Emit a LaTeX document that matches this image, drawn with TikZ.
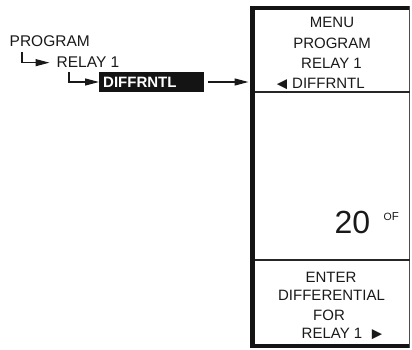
\documentclass[tikz,border=0pt]{standalone}
\usepackage{fontspec}
\setmainfont{Liberation Sans}
\usetikzlibrary{arrows.meta}
\begin{document}
\begin{tikzpicture}[x=1pt,y=-1pt,
  arr/.style={line width=1.3pt, draw=black!90, -{Triangle[length=14pt,width=7pt]}},
  lbl/.style={inner sep=0, anchor=base west, font=\fontsize{15.5}{15.5}\selectfont, text=black!90},
  lcdtxt/.style={inner sep=0, anchor=base, font=\fontsize{15}{15}\selectfont, text=black!90},
  tri/.style={inner sep=0, anchor=base, font=\fontsize{17}{17}\selectfont, text=black!90},
  divider/.style={line width=1.2pt, draw=black!85}
  ]
\useasboundingbox (0,0) rectangle (412,350);
% left menu path
\node[lbl] (prog) at (9.5,47) {PROGRAM};
\node[lbl] (relay) at (56.5,68) {RELAY 1};
\node[fill=black!92, inner xsep=4pt, inner ysep=0pt, minimum height=20pt, text width=97pt,
      anchor=west, text=white, font=\fontsize{15}{15}\selectfont\bfseries] (diff) at (99,82) {DIFFRNTL};
\draw[arr] ([shift={(12.5,5)}]prog.south west) |- ([xshift=-7pt]relay.west);
\draw[arr] ([shift={(12.5,4)}]relay.south west) |- (diff.west);
% LCD frame
\node[inner sep=0, minimum width=159.5pt, minimum height=342pt, anchor=north west] (lcd) at (250,6) {};
\fill[black!92] (lcd.north west) rectangle ([xshift=5pt]lcd.south west);
\fill[black!92] (lcd.north west) rectangle ([yshift=-4.5pt]lcd.north east);
\fill[black!92] ([yshift=4.5pt]lcd.south west) rectangle (lcd.south east);
\draw[line width=1pt, black!70] ([xshift=-0.5pt]lcd.north east) -- ([xshift=-0.5pt]lcd.south east);
\coordinate (d1l) at (255,92);
\coordinate (d1r) at (409.5,92);
\coordinate (d2l) at (255,260);
\coordinate (d2r) at (409.5,260);
\draw[divider] (d1l) -- (d1r);
\draw[divider] (d2l) -- (d2r);
\draw[arr, shorten <=4pt, shorten >=1.5pt] (diff.east) -- (diff.east -| lcd.west);
% top section
\node[lcdtxt] (t1) at (332,28) {MENU};
\node[lcdtxt] (t2) at (332,49) {PROGRAM};
\node[lcdtxt] (t3) at (331.5,69) {RELAY 1};
\node[tri] (t4a) at (282,90) {◄};
\node[lcdtxt, anchor=base west] (t4) at (292,89) {DIFFRNTL};
% value
\node[inner sep=0, anchor=base west, font=\fontsize{32}{32}\selectfont, text=black!90] (val) at (334.5,233) {20};
\node[inner sep=0, anchor=base west, font=\fontsize{11.5}{11.5}\selectfont, text=black!90] (unit) at (383.5,220.5) {{\fontsize{10.5}{10.5}\selectfont O}F};
% bottom section
\node[lcdtxt] (b1) at (331,282) {ENTER};
\node[lcdtxt] (b2) at (331.5,300) {DIFFERENTIAL};
\node[lcdtxt] (b3) at (329,320) {FOR};
\node[lcdtxt, anchor=base west] (b4) at (301.5,338) {RELAY 1};
\node[tri] (b4a) at (377,339.5) {►};
\end{tikzpicture}
\end{document}
